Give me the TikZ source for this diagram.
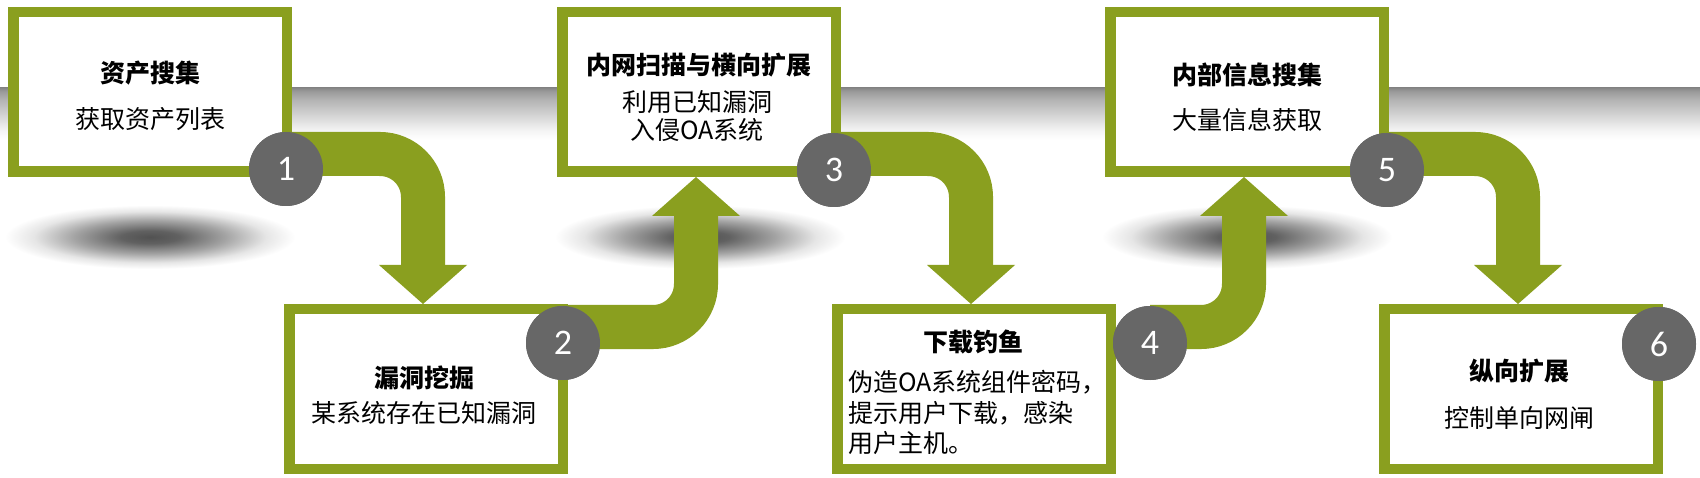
\documentclass[tikz,border=0pt]{standalone}
\usepackage{fontspec}
\setmainfont{Noto Sans CJK SC}
\newfontfamily\numfont{Carlito}
\usetikzlibrary{calc}
\definecolor{olv}{RGB}{138,159,31}
\definecolor{numgray}{RGB}{103,103,103}
\pgfdeclareverticalshading{bandsh}{100bp}{color(0bp)=(white); color(25bp)=(white); color(34bp)=(black!4); color(49bp)=(black!17); color(64bp)=(black!30); color(72bp)=(black!40); color(75bp)=(black!47); color(100bp)=(black!47)}
\pgfdeclareradialshading{blobsh}{\pgfpointorigin}{color(0bp)=(black!68); color(5bp)=(black!62); color(13bp)=(black!36); color(20bp)=(black!10); color(25bp)=(white); color(50bp)=(white)}
\tikzset{
  box/.style={draw=olv, line width=10.5pt, fill=white, minimum width=273.5pt, minimum height=159.5pt, inner sep=0pt},
  ttl/.style={font=\bfseries\fontsize{25pt}{30pt}\selectfont, inner sep=0pt},
  sub/.style={font=\fontsize{25pt}{30pt}\selectfont, inner sep=0pt},
  num/.style={circle, fill=numgray, minimum size=74pt, inner sep=0pt, text=white, font=\numfont\fontsize{36pt}{40pt}\selectfont},
  band/.style={draw=olv, line width=44pt, rounded corners=43pt},
  head/.style={fill=olv}
}
\begin{document}
\begin{tikzpicture}[x=1pt,y=-1pt]
\useasboundingbox (0,0) rectangle (1700,478);
\fill[white] (0,0) rectangle (1700,478);
% gray band
\shade[shading=bandsh] (0,88) rectangle (1700,140);
% shadows
\shade[shading=blobsh] (150,237) ellipse (145 and 32);
\shade[shading=blobsh] (700,237) ellipse (145 and 32);
\shade[shading=blobsh] (1247,237) ellipse (145 and 32);
% boxes
\node[box] (b1) at (150,92) {};
\node[box] (b3) at (699,92) {};
\node[box] (b5) at (1247,92) {};
\node[box] (b2) at (426,389) {};
\node[box] (b4) at (974,389) {};
\node[box] (b6) at (1521,389) {};
% numbers
\node[num] (c1) at (286,169) {1};
\node[num] (c2) at (563,343) {2};
\node[num] (c3) at (834,170) {3};
\node[num] (c4) at (1150,343) {4};
\node[num] (c5) at (1387,170) {5};
\node[num] (c6) at (1659,344) {6};
% anchor coordinates
\coordinate (s1) at ($(c1.center)+(0,-15)$);
\coordinate (s3) at ($(c3.center)+(0,-16)$);
\coordinate (s5) at ($(c5.center)+(0,-16)$);
\coordinate (s2) at ($(c2.center)+(0,-16)$);
\coordinate (s4) at ($(c4.center)+(0,-16)$);
\coordinate (h2) at ($(b2.north)+(-3,0)$);
\coordinate (h4) at ($(b4.north)+(-3,0)$);
\coordinate (h6) at ($(b6.north)+(-3,0)$);
\coordinate (h3) at ($(b3.south)+(-3,0)$);
\coordinate (h5) at ($(b5.south)+(-3,0)$);
% arrows (behind circles)
\draw[band] (s1) -- (s1 -| h2) -- ($(h2)+(0,-37)$);
\fill[head] ($(h2)+(-44,-39)$) -- ($(h2)+(44,-39)$) -- (h2) -- cycle;
\draw[band] (s2) -- (s2 -| h3) -- ($(h3)+(0,37)$);
\fill[head] ($(h3)+(-44,39)$) -- ($(h3)+(44,39)$) -- (h3) -- cycle;
\draw[band] (s3) -- (s3 -| h4) -- ($(h4)+(0,-37)$);
\fill[head] ($(h4)+(-44,-39)$) -- ($(h4)+(44,-39)$) -- (h4) -- cycle;
\draw[band] (s4) -- (s4 -| h5) -- ($(h5)+(0,37)$);
\fill[head] ($(h5)+(-44,39)$) -- ($(h5)+(44,39)$) -- (h5) -- cycle;
\draw[band] (s5) -- (s5 -| h6) -- ($(h6)+(0,-37)$);
\fill[head] ($(h6)+(-44,-39)$) -- ($(h6)+(44,-39)$) -- (h6) -- cycle;
% redraw circles on top
\node[num] at (c1.center) {1};
\node[num] at (c2.center) {2};
\node[num] at (c3.center) {3};
\node[num] at (c4.center) {4};
\node[num] at (c5.center) {5};
\node[num] at (c6.center) {6};
% texts
\node[ttl] (t1) at (150,73) {资产搜集};
\node[sub] (u1) at (150,119) {获取资产列表};
\node[ttl] (t2) at (424,378) {漏洞挖掘};
\node[sub] (u2) at (424,413) {某系统存在已知漏洞};
\node[ttl] (t3) at (699,65) {内网扫描与横向扩展};
\node[sub] (u3a) at (697,102) {利用已知漏洞};
\node[sub] (u3b) at (697,130) {入侵OA系统};
\node[ttl] (t4) at (973,342) {下载钓鱼};
\node[sub, anchor=west] (u4a) at (848,382) {伪造OA系统组件密码，};
\node[sub, anchor=west] (u4b) at (848,413) {提示用户下载，感染};
\node[sub, anchor=west] (u4c) at (848,443) {用户主机。};
\node[ttl] (t5) at (1247,75) {内部信息搜集};
\node[sub] (u5) at (1247,120) {大量信息获取};
\node[ttl] (t6) at (1519,371) {纵向扩展};
\node[sub] (u6) at (1519,418) {控制单向网闸};
\end{tikzpicture}
\end{document}
